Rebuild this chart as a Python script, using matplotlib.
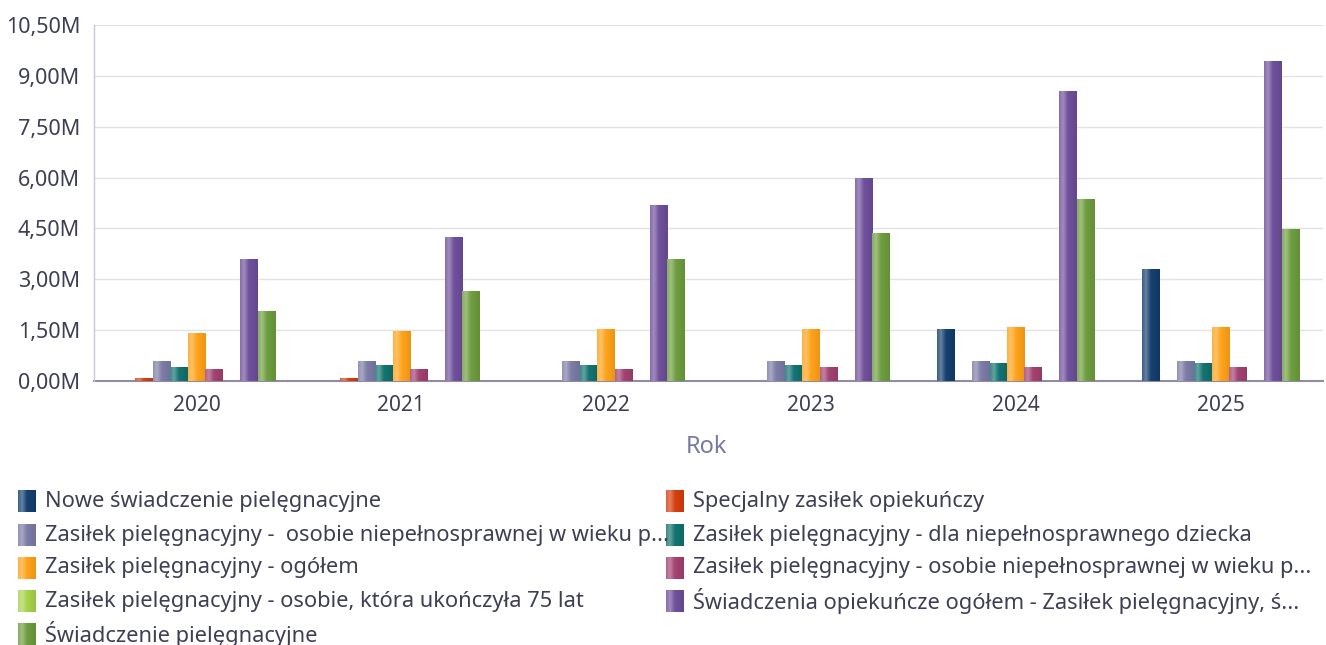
import numpy as np
import matplotlib.pyplot as plt
from matplotlib.colors import to_rgb
from matplotlib.ticker import FuncFormatter, FixedLocator

plt.rcParams['font.family'] = ['Noto Sans', 'DejaVu Sans']

years = ["2020", "2021", "2022", "2023", "2024", "2025"]

labels = [
    "Nowe świadczenie pielęgnacyjne",
    "Specjalny zasiłek opiekuńczy",
    "Zasiłek pielęgnacyjny -  osobie niepełnosprawnej w wieku p...",
    "Zasiłek pielęgnacyjny - dla niepełnosprawnego dziecka",
    "Zasiłek pielęgnacyjny - ogółem",
    "Zasiłek pielęgnacyjny - osobie niepełnosprawnej w wieku p...",
    "Zasiłek pielęgnacyjny - osobie, która ukończyła 75 lat",
    "Świadczenia opiekuńcze ogółem - Zasiłek pielęgnacyjny, ś...",
    "Świadczenie pielęgnacyjne",
]

colors = ["#123d6c", "#d63c0c", "#7a7aa6", "#0f716e", "#ffa117",
          "#a13f6e", "#a6d24a", "#6d4d9a", "#6c9c3c"]

# values in millions
nowe = [0.0, 0.0, 0.0, 0.0, 1.54, 3.30]
specjalny = [0.09, 0.09, 0.0, 0.0, 0.0, 0.0]
zp_wiek_a = [0.59, 0.59, 0.59, 0.59, 0.59, 0.59]
zp_dziecko = [0.42, 0.48, 0.48, 0.48, 0.54, 0.54]
zp_ogolem = [1.42, 1.48, 1.54, 1.54, 1.60, 1.60]
zp_wiek_b = [0.36, 0.36, 0.36, 0.42, 0.42, 0.42]
zp_75 = [0.0, 0.0, 0.0, 0.0, 0.0, 0.0]
opiekuncze = [3.60, 4.25, 5.19, 6.00, 8.55, 9.44]
swiadczenie = [2.07, 2.66, 3.60, 4.37, 5.36, 4.48]

series = [nowe, specjalny, zp_wiek_a, zp_dziecko, zp_ogolem,
          zp_wiek_b, zp_75, opiekuncze, swiadczenie]

W, H = 1326, 645
fig = plt.figure(figsize=(W / 100, H / 100), dpi=100)
ax = fig.add_axes([94 / W, 1 - 381 / H, 1229 / W, 356 / H])


def shade(c, f):
    r = np.array(to_rgb(c))
    if f >= 0:
        return r + (1 - r) * f
    return r * (1 + f)


def gradient(c):
    stops = [0.0, 0.22, 0.5, 1.0]
    cols = [shade(c, 0.18), shade(c, 0.35), shade(c, 0.02), shade(c, -0.08)]
    t = np.linspace(0, 1, 64)
    g = np.stack([np.interp(t, stops, [k[i] for k in cols]) for i in range(3)], axis=-1)
    return g[np.newaxis, :, :]


x = np.arange(len(years))
group = 0.767
bw = group / len(series)
for i, (vals, col) in enumerate(zip(series, colors)):
    pos = x - group / 2 + bw * (i + 0.5)
    bars = ax.bar(pos, np.array(vals) * 1e6, width=bw, color=col, zorder=2,
                  linewidth=0)
    img = gradient(col)
    for b in bars:
        if b.get_height() <= 0:
            continue
        x0 = b.get_x()
        im = ax.imshow(img, extent=[x0, x0 + b.get_width(), 0, b.get_height()],
                       aspect='auto', interpolation='bilinear', zorder=3)
        im.set_clip_path(b)

ax.set_xlim(-0.5, len(years) - 0.5)
ax.set_ylim(0, 10.5e6)
ax.yaxis.set_major_locator(FixedLocator(np.arange(0, 10.6e6, 1.5e6)))
ax.yaxis.set_major_formatter(
    FuncFormatter(lambda v, p: f"{v / 1e6:.2f}M".replace(".", ",")))
ax.set_xticks(x)
ax.set_xticklabels(years)

text_col = "#3e3e55"
ax.tick_params(axis='y', length=0, pad=10, labelsize=15.5, labelcolor=text_col)
ax.tick_params(axis='x', length=0, pad=10, labelsize=15, labelcolor=text_col)
ax.grid(axis='y', color="#e2e2e2", linewidth=1, zorder=0)
ax.set_axisbelow(True)
for s in ("top", "right"):
    ax.spines[s].set_visible(False)
ax.spines["left"].set_color("#c8c8dc")
ax.spines["left"].set_linewidth(1)
ax.spines["bottom"].set_color("#8f8ba9")
ax.spines["bottom"].set_linewidth(1.5)
ax.spines["bottom"].set_zorder(1)

fig.text(707 / W, 1 - 447 / H, "Rok", ha="center", va="center",
         fontsize=17, color="#7579a3")

# legend, filled row by row in two columns
lg = fig.add_axes([0, 0, 1, 1])
lg.axis("off")
rows = [501, 535, 568, 601, 634]
cols_x = [18, 666]
for i, (lab, col) in enumerate(zip(labels, colors)):
    cx = cols_x[i % 2]
    cy = rows[i // 2]
    lg.imshow(gradient(col), extent=[cx, cx + 18, cy + 11, cy - 11],
              aspect='auto', interpolation='bilinear')
    lg.text(cx + 27, cy, lab, ha="left", va="center", fontsize=15.7,
            color=text_col)
lg.set_xlim(0, W)
lg.set_ylim(H, 0)

fig.savefig("out.png", dpi=100, facecolor="white")
